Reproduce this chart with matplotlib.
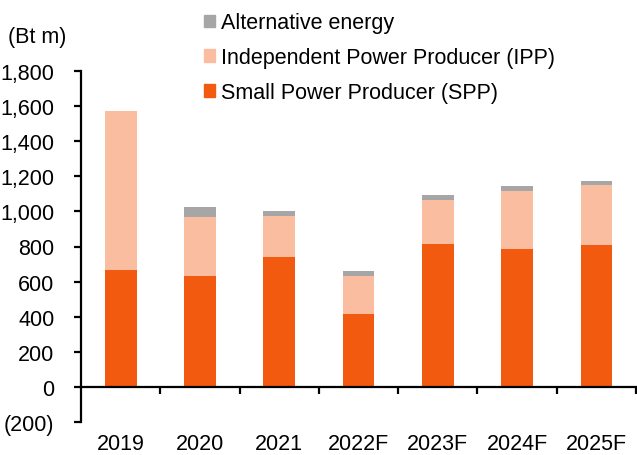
import matplotlib
matplotlib.use("Agg")
import matplotlib.pyplot as plt
import numpy as np
from matplotlib.patches import Patch

plt.rcParams['font.family'] = ['Liberation Sans', 'DejaVu Sans']

categories = ["2019", "2020", "2021", "2022F", "2023F", "2024F", "2025F"]
spp = [665, 631, 739, 416, 813, 784, 807]
ipp_total = [1574, 966, 972, 631, 1063, 1114, 1148]
alt_total = [1574, 1023, 1000, 661, 1095, 1142, 1176]
ipp = [t - s for t, s in zip(ipp_total, spp)]
alt = [t - i for t, i in zip(alt_total, ipp_total)]

c_spp = "#F25A0F"
c_ipp = "#FBBD9F"
c_alt = "#A6A6A6"

W, H = 637, 456
fig = plt.figure(figsize=(W / 100, H / 100), dpi=100)
ax = fig.add_axes([81 / W, 33 / H, 555 / W, 351 / H])

x = np.arange(len(categories))
bw = 0.40
ax.bar(x, spp, bw, color=c_spp, label="Small Power Producer (SPP)", zorder=2)
ax.bar(x, ipp, bw, bottom=spp, color=c_ipp, label="Independent Power Producer (IPP)", zorder=2)
ax.bar(x, alt, bw, bottom=ipp_total, color=c_alt, label="Alternative energy", zorder=2)

ax.set_ylim(-200, 1800)
ax.set_xlim(-0.5, len(categories) - 0.5)
ax.set_yticks(np.arange(-200, 1801, 200))
ax.set_yticklabels(["(200)"] + [f"{v:,}" for v in range(0, 1801, 200)])

for s in ["top", "right"]:
    ax.spines[s].set_visible(False)
ax.spines["bottom"].set_position(("data", 0))
ax.spines["bottom"].set_linewidth(1.6)
ax.spines["left"].set_linewidth(1.6)
ax.spines["bottom"].set_zorder(3)

ax.set_xticks(x)
ax.set_xticklabels(categories)
ax.set_xticks(np.arange(0.5, len(categories), 1.0), minor=True)
ax.tick_params(axis="x", which="major", length=0, pad=33.5, labelsize=15.5)
ax.tick_params(axis="x", which="minor", length=5, width=1.6, direction="out")
ax.tick_params(axis="y", length=5, width=1.6, pad=14, labelsize=15.5)

fig.text(8 / W, 1 - 37 / H, "(Bt m)", fontsize=15.5, va="center", ha="left")

handles = [Patch(color=c_alt), Patch(color=c_ipp), Patch(color=c_spp)]
labels = ["Alternative energy", "Independent Power Producer (IPP)", "Small Power Producer (SPP)"]
fig.legend(handles, labels, loc="upper left", bbox_to_anchor=(198 / W, 1 - 7 / H),
           frameon=False, fontsize=15.5, handlelength=0.5, handleheight=0.5,
           handletextpad=0.25, labelspacing=0.64, borderaxespad=0, borderpad=0.3)

fig.savefig("out.png", dpi=100)
